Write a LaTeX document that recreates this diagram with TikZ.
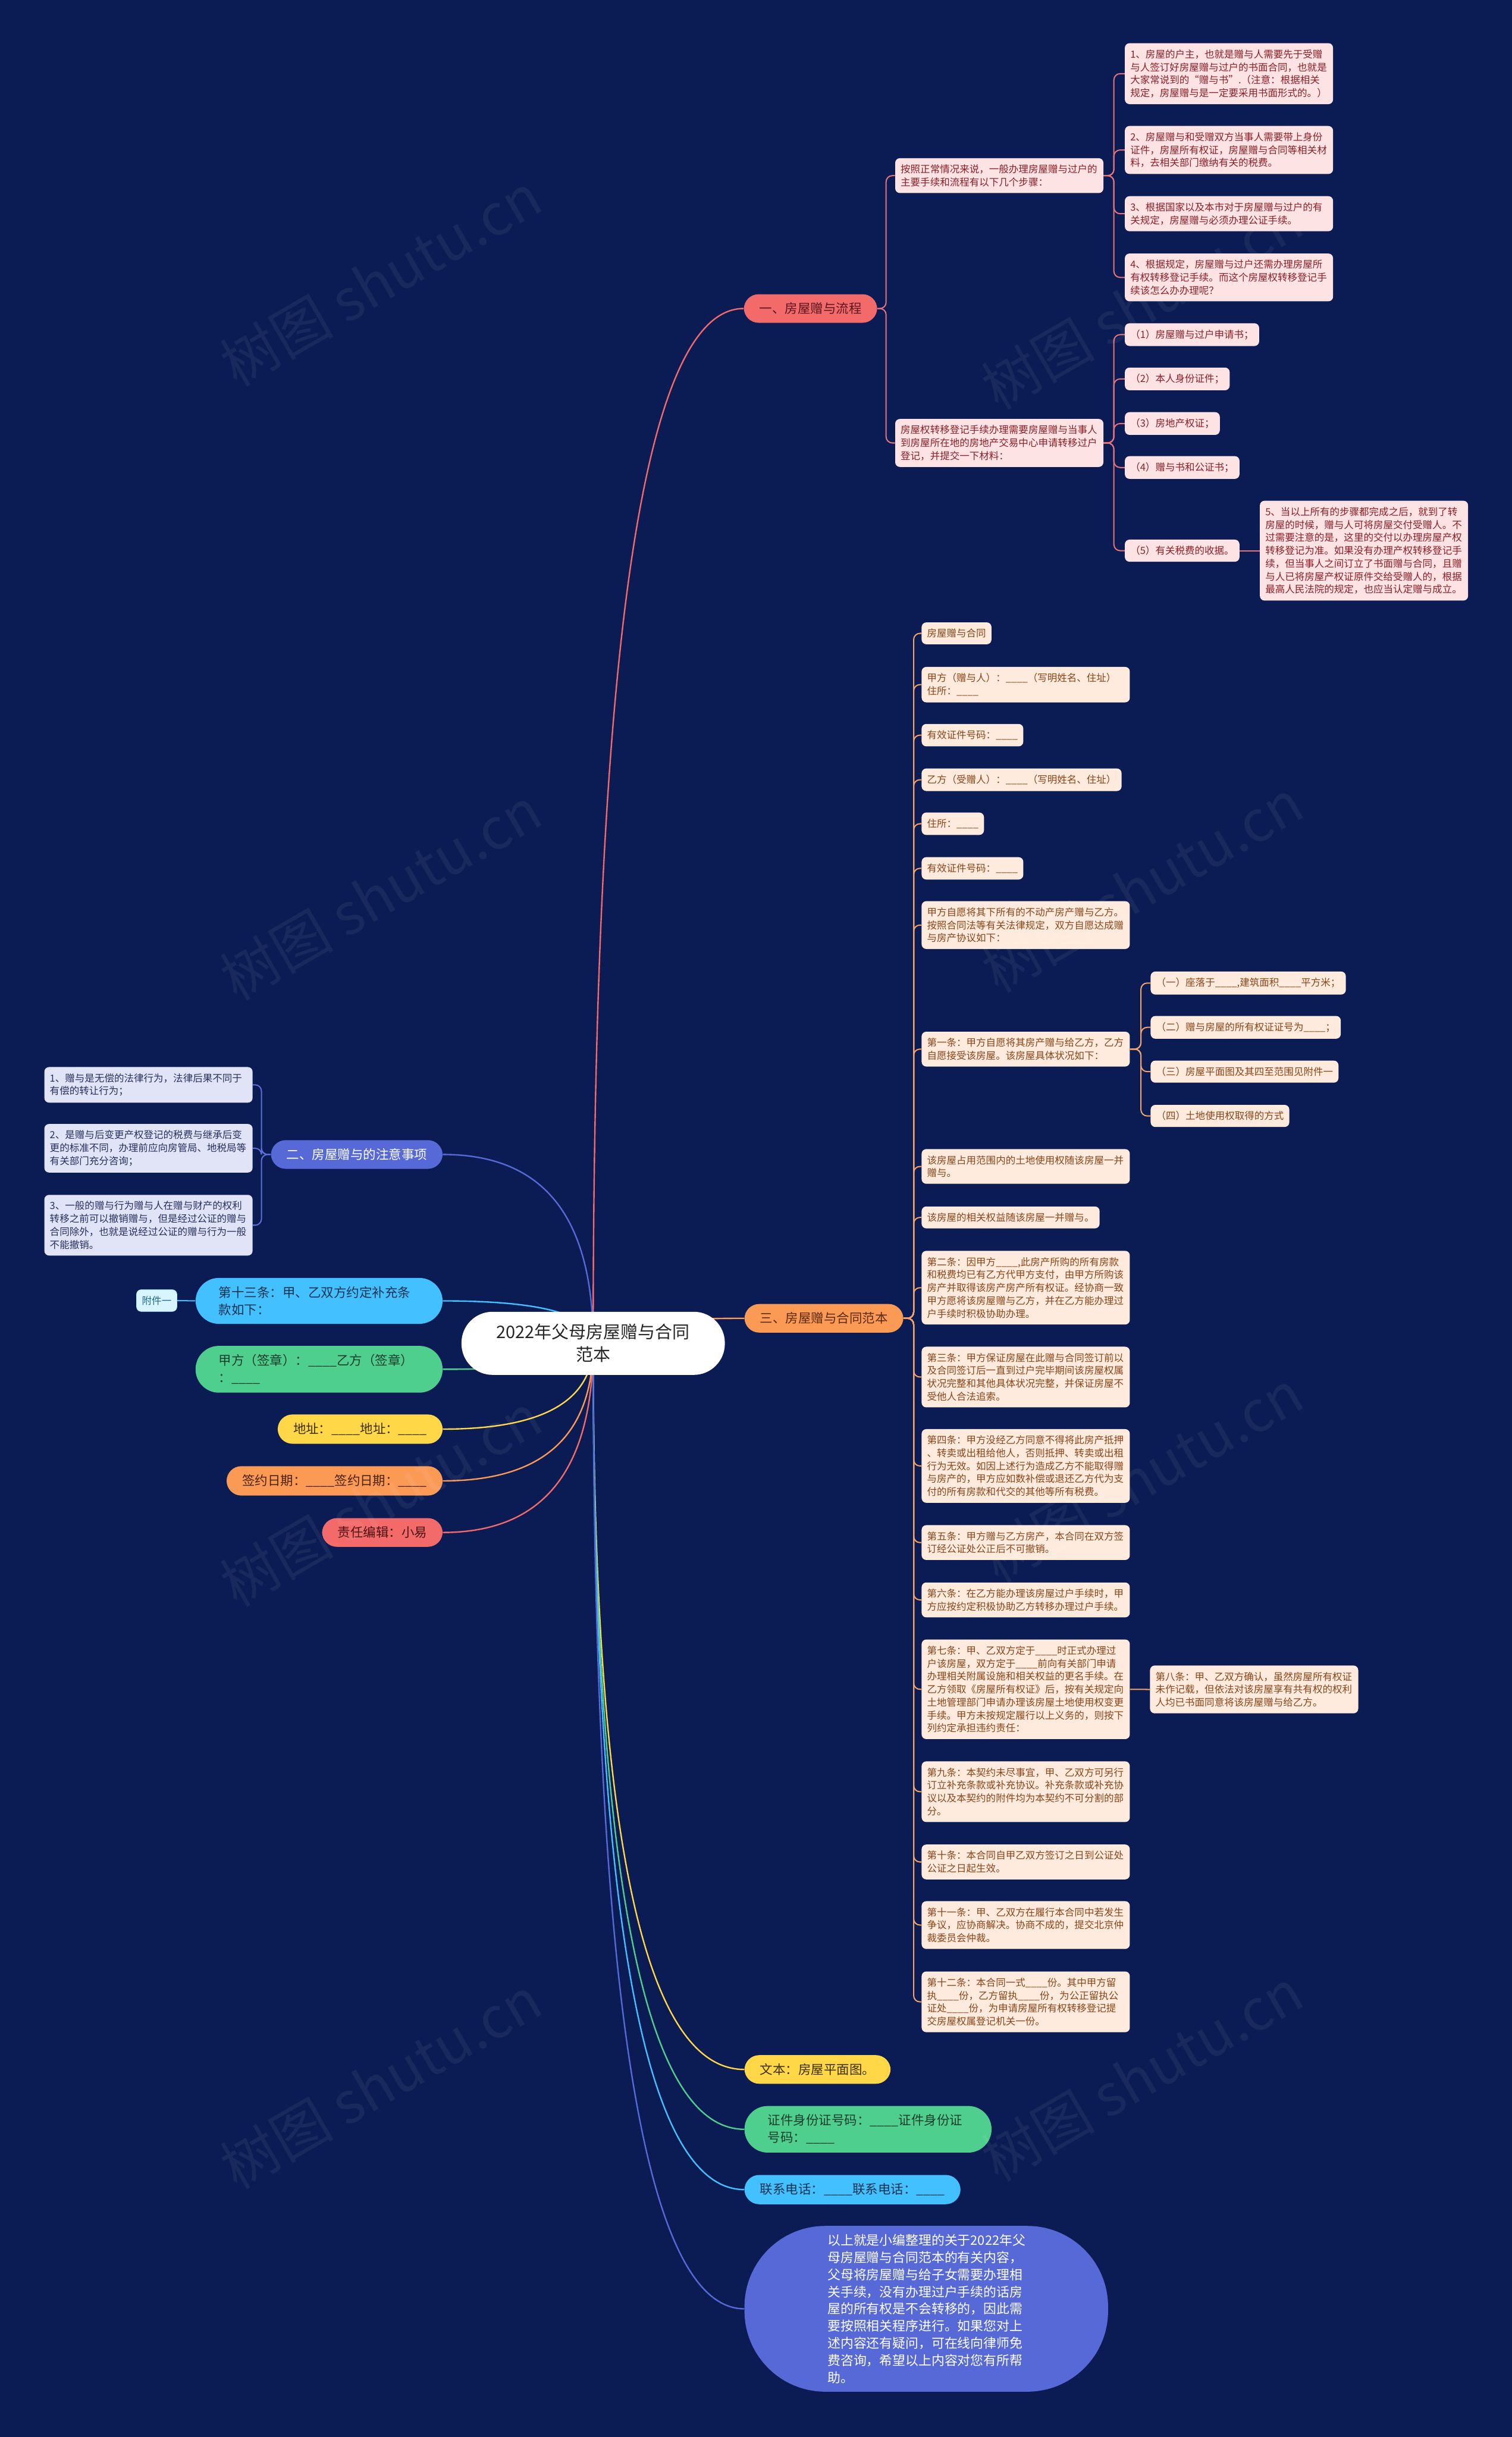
\documentclass[tikz,border=0pt]{standalone}
\usepackage{fontspec}
\setmainfont{Noto Sans CJK SC}
\usetikzlibrary{calc}

\definecolor{bgnavy}{HTML}{0B1C54}
\definecolor{cRed}{HTML}{F26A6A}
\definecolor{cOrange}{HTML}{FA9A55}
\definecolor{cIndigo}{HTML}{5669D6}
\definecolor{cSky}{HTML}{42C0FF}
\definecolor{cGreen}{HTML}{4ECF8D}
\definecolor{cYellow}{HTML}{FFD747}
\definecolor{redFill}{HTML}{FDE3E3}
\definecolor{redText}{HTML}{8E1E27}
\definecolor{redLink}{HTML}{E77479}
\definecolor{orangeFill}{HTML}{FEEBDD}
\definecolor{orangeText}{HTML}{8A4418}
\definecolor{orangeLink}{HTML}{F3A269}
\definecolor{indigoFill}{HTML}{E1E4F7}
\definecolor{indigoText}{HTML}{27305E}
\definecolor{indigoLink}{HTML}{5D6ED9}
\definecolor{skyFill}{HTML}{D8F4FF}
\definecolor{skyText}{HTML}{1F6A8C}
\definecolor{tRed}{HTML}{5B1720}
\definecolor{tOrange}{HTML}{5A2A0E}
\definecolor{tYellow}{HTML}{3B3000}
\definecolor{tGreen}{HTML}{183D2B}
\definecolor{tSky}{HTML}{16334F}
\definecolor{tOrangeb}{HTML}{4A2208}
\definecolor{tRedb}{HTML}{4C1212}

\pgfdeclarelayer{bg}
\pgfdeclarelayer{links}
\pgfsetlayers{bg,links,main}

\newcommand\xblank{\_\_\_\_}

\begin{document}
\begin{tikzpicture}[x=0.5mm,y=-0.5mm,
  leafbox/.style={rounded corners=1.5mm,inner xsep=1.75mm,inner ysep=2.05mm,align=left,anchor=west,font=\fontsize{9}{11.85}\selectfont},
  widebox/.style={text width=63.5mm},
  redbox/.style={leafbox,fill=redFill,text=redText},
  orangebox/.style={leafbox,fill=orangeFill,text=orangeText},
  indigobox/.style={leafbox,fill=indigoFill,text=indigoText,anchor=east},
  pill/.style={rounded corners=4.75mm,inner xsep=5mm,inner ysep=2.7mm,align=center,font=\fontsize{11.7}{15.8}\selectfont},
  pilltwo/.style={rounded corners=7.5mm,inner xsep=7.5mm,inner ysep=2.7mm,text width=64.5mm,align=left,font=\fontsize{11.7}{15.8}\selectfont},
  rootnode/.style={fill=white,text=black!85,rounded corners=10mm,minimum width=84.75mm,minimum height=20.3mm,align=center,font=\fontsize{15.8}{20.6}\selectfont},
  sumnode/.style={fill=cIndigo,text=white,rounded corners=26mm,inner xsep=26.75mm,inner ysep=2.65mm,text width=63.5mm,align=left,font=\fontsize{11.9}{15.7}\selectfont},
  mainlink/.style={line width=1.3pt},
  sublink/.style={line width=1.1pt,rounded corners=2mm},
  wmark/.style={rotate=30,text=white,opacity=0.06,font=\fontsize{52}{52}\selectfont}]

  \useasboundingbox (0,0) rectangle (973,1568);
  \begin{pgfonlayer}{bg}
    \fill[bgnavy] (0,0) rectangle (973,1568);
  \end{pgfonlayer}

  % 中心主题
  \node[rootnode] (root) at (381.75,864.3) {2022年父母房屋赠与合同\\范本};

  % 一、房屋赠与流程
  \node[pill,anchor=west,fill=cRed,text=tRed] (b1) at (478.6,198.5) {一、房屋赠与流程};
  \node[redbox,widebox] (s1a) at (576,113) {按照正常情况来说，一般办理房屋赠与过户的\\主要手续和流程有以下几个步骤：};
  \node[redbox,widebox] (s1b) at (576,285) {房屋权转移登记手续办理需要房屋赠与当事人\\到房屋所在地的房地产交易中心申请转移过户\\登记，并提交一下材料：};
  \node[redbox,widebox] (l1) at (723.8,47.4) {1、房屋的户主，也就是赠与人需要先于受赠\\与人签订好房屋赠与过户的书面合同，也就是\\大家常说到的“赠与书”.（注意：根据相关\\规定，房屋赠与是一定要采用书面形式的。）};
  \node[redbox,widebox] (l2) at (723.8,96.5) {2、房屋赠与和受赠双方当事人需要带上身份\\证件，房屋所有权证，房屋赠与合同等相关材\\料，去相关部门缴纳有关的税费。};
  \node[redbox,widebox] (l3) at (723.8,137.5) {3、根据国家以及本市对于房屋赠与过户的有\\关规定，房屋赠与必须办理公证手续。};
  \node[redbox,widebox] (l4) at (723.8,178.5) {4、根据规定，房屋赠与过户还需办理房屋所\\有权转移登记手续。而这个房屋权转移登记手\\续该怎么办办理呢？};
  \node[redbox] (m1) at (723.8,215.3) {（1）房屋赠与过户申请书；};
  \node[redbox] (m2) at (723.8,243.8) {（2）本人身份证件；};
  \node[redbox] (m3) at (723.8,272.5) {（3）房地产权证；};
  \node[redbox] (m4) at (723.8,300.8) {（4）赠与书和公证书；};
  \node[redbox] (m5) at (723.8,354.3) {（5）有关税费的收据。};
  \node[redbox,widebox] (m5a) at (810.7,354.3) {5、当以上所有的步骤都完成之后，就到了转\\房屋的时候，赠与人可将房屋交付受赠人。不\\过需要注意的是，这里的交付以办理房屋产权\\转移登记为准。如果没有办理产权转移登记手\\续，但当事人之间订立了书面赠与合同，且赠\\与人已将房屋产权证原件交给受赠人的，根据\\最高人民法院的规定，也应当认定赠与成立。};

  % 三、房屋赠与合同范本
  \node[pill,anchor=west,fill=cOrange,text=tOrange] (b3) at (479,848.2) {三、房屋赠与合同范本};
  \node[orangebox] (c1) at (593,407.5) {房屋赠与合同};
  \node[orangebox,widebox] (c2) at (593,440.5) {甲方（赠与人）：\xblank（写明姓名、住址）\\住所：\xblank};
  \node[orangebox] (c3) at (593,473) {有效证件号码：\xblank};
  \node[orangebox] (c4) at (593,501.7) {乙方（受赠人）：\xblank（写明姓名、住址）};
  \node[orangebox] (c5) at (593,530) {住所：\xblank};
  \node[orangebox] (c6) at (593,558.7) {有效证件号码：\xblank};
  \node[orangebox,widebox] (c7) at (593,595.2) {甲方自愿将其下所有的不动产房产赠与乙方。\\按照合同法等有关法律规定，双方自愿达成赠\\与房产协议如下：};
  \node[orangebox,widebox] (c8) at (593,675) {第一条：甲方自愿将其房产赠与给乙方，乙方\\自愿接受该房屋。该房屋具体状况如下：};
  \node[orangebox] (d1) at (740.4,632.5) {（一）座落于\xblank,建筑面积\xblank 平方米；};
  \node[orangebox] (d2) at (740.4,661) {（二）赠与房屋的所有权证证号为\xblank；};
  \node[orangebox] (d3) at (740.4,689.5) {（三）房屋平面图及其四至范围见附件一};
  \node[orangebox] (d4) at (740.4,718) {（四）土地使用权取得的方式};
  \node[orangebox,widebox] (c9) at (593,750.5) {该房屋占用范围内的土地使用权随该房屋一并\\赠与。};
  \node[orangebox] (c10) at (593,783.3) {该房屋的相关权益随该房屋一并赠与。};
  \node[orangebox,widebox] (c11) at (593,828.5) {第二条：因甲方\xblank,此房产所购的所有房款\\和税费均已有乙方代甲方支付，由甲方所购该\\房产并取得该房产房产所有权证。经协商一致\\甲方愿将该房屋赠与乙方，并在乙方能办理过\\户手续时积极协助办理。};
  \node[orangebox,widebox] (c12) at (593,886) {第三条：甲方保证房屋在此赠与合同签订前以\\及合同签订后一直到过户完毕期间该房屋权属\\状况完整和其他具体状况完整，并保证房屋不\\受他人合法追索。};
  \node[orangebox,widebox] (c13) at (593,943.2) {第四条：甲方没经乙方同意不得将此房产抵押\\、转卖或出租给他人，否则抵押、转卖或出租\\行为无效。如因上述行为造成乙方不能取得赠\\与房产的，甲方应如数补偿或退还乙方代为支\\付的所有房款和代交的其他等所有税费。};
  \node[orangebox,widebox] (c14) at (593,992.5) {第五条：甲方赠与乙方房产，本合同在双方签\\订经公证处公正后不可撤销。};
  \node[orangebox,widebox] (c15) at (593,1029.4) {第六条：在乙方能办理该房屋过户手续时，甲\\方应按约定积极协助乙方转移办理过户手续。};
  \node[orangebox,widebox] (c16) at (593,1086.9) {第七条：甲、乙双方定于\xblank 时正式办理过\\户该房屋，双方定于\xblank 前向有关部门申请\\办理相关附属设施和相关权益的更名手续。在\\乙方领取《房屋所有权证》后，按有关规定向\\土地管理部门申请办理该房屋土地使用权变更\\手续。甲方未按规定履行以上义务的，则按下\\列约定承担违约责任：};
  \node[orangebox,widebox] (c16a) at (740,1087) {第八条：甲、乙双方确认，虽然房屋所有权证\\未作记载，但依法对该房屋享有共有权的权利\\人均已书面同意将该房屋赠与给乙方。};
  \node[orangebox,widebox] (c17) at (593,1152.8) {第九条：本契约未尽事宜，甲、乙双方可另行\\订立补充条款或补充协议。补充条款或补充协\\议以及本契约的附件均为本契约不可分割的部\\分。};
  \node[orangebox,widebox] (c18) at (593,1198) {第十条：本合同自甲乙双方签订之日到公证处\\公证之日起生效。};
  \node[orangebox,widebox] (c19) at (593,1238.6) {第十一条：甲、乙双方在履行本合同中若发生\\争议，应协商解决。协商不成的，提交北京仲\\裁委员会仲裁。};
  \node[orangebox,widebox] (c20) at (593,1288) {第十二条：本合同一式\xblank 份。其中甲方留\\执\xblank 份，乙方留执\xblank 份，为公正留执公\\证处\xblank 份，为申请房屋所有权转移登记提\\交房屋权属登记机关一份。};

  % 右下分支
  \node[pill,anchor=west,fill=cYellow,text=tYellow] (e1) at (479,1331.5) {文本：房屋平面图。};
  \node[pilltwo,anchor=west,fill=cGreen,text=tGreen] (e2) at (479,1370) {证件身份证号码：\xblank 证件身份证\\号码：\xblank};
  \node[pill,anchor=west,fill=cSky,text=tSky] (e3) at (479,1408.8) {联系电话：\xblank 联系电话：\xblank};
  \node[sumnode,anchor=west] (e4) at (479,1485.5) {以上就是小编整理的关于2022年父\\母房屋赠与合同范本的有关内容，\\父母将房屋赠与给子女需要办理相\\关手续，没有办理过户手续的话房\\屋的所有权是不会转移的，因此需\\要按照相关程序进行。如果您对上\\述内容还有疑问，可在线向律师免\\费咨询，希望以上内容对您有所帮\\助。};

  % 二、房屋赠与的注意事项
  \node[pill,anchor=east,fill=cIndigo,text=white] (b2) at (285,742.8) {二、房屋赠与的注意事项};
  \node[indigobox,widebox] (n1) at (162.7,698) {1、赠与是无偿的法律行为，法律后果不同于\\有偿的转让行为；};
  \node[indigobox,widebox] (n2) at (162.7,738.8) {2、是赠与后变更产权登记的税费与继承后变\\更的标准不同，办理前应向房管局、地税局等\\有关部门充分咨询；};
  \node[indigobox,widebox] (n3) at (162.7,788.3) {3、一般的赠与行为赠与人在赠与财产的权利\\转移之前可以撤销赠与，但是经过公证的赠与\\合同除外，也就是说经过公证的赠与行为一般\\不能撤销。};

  % 左侧分支
  \node[pilltwo,anchor=east,fill=cSky,text=tSky] (f1) at (285,837) {第十三条：甲、乙双方约定补充条\\款如下：};
  \node[leafbox,anchor=east,fill=skyFill,text=skyText,draw=cSky!40,line width=0.4pt] (f1a) at (114,836.8) {附件一};
  \node[pilltwo,anchor=east,fill=cGreen,text=tGreen] (f2) at (285,881) {甲方（签章）：\xblank 乙方（签章）\\：\xblank};
  \node[pill,anchor=east,fill=cYellow,text=tYellow] (f3) at (285,919.5) {地址：\xblank 地址：\xblank};
  \node[pill,anchor=east,fill=cOrange,text=tOrangeb] (f4) at (285,952.8) {签约日期：\xblank 签约日期：\xblank};
  \node[pill,anchor=east,fill=cRed,text=tRedb] (f5) at (285,986) {责任编辑：小易};

  % 连线
  \begin{pgfonlayer}{links}
    \foreach \nd/\col in {b1/cRed,b3/cOrange,e1/cYellow,e2/cGreen,e3/cSky,e4/cIndigo}
      \draw[mainlink,draw=\col] (root.center) .. controls ($(root.center)!.67!(root.center |- \nd.west)$) and ($(\nd.west)!.67!(root.center |- \nd.west)$) .. (\nd.west);
    \foreach \nd/\col in {b2/cIndigo,f1/cSky,f2/cGreen,f3/cYellow,f4/cOrange,f5/cRed}
      \draw[mainlink,draw=\col] (root.center) .. controls ($(root.center)!.67!(root.center |- \nd.east)$) and ($(\nd.east)!.67!(root.center |- \nd.east)$) .. (\nd.east);

    \foreach \nd in {s1a,s1b}
      \draw[sublink,redLink] (b1.east) -- ++(5.6,0) |- (\nd.west);
    \foreach \nd in {l1,l2,l3,l4}
      \draw[sublink,redLink] (s1a.east) -- ++(6.6,0) |- (\nd.west);
    \foreach \nd in {m1,m2,m3,m4,m5}
      \draw[sublink,redLink] (s1b.east) -- ++(6.6,0) |- (\nd.west);
    \draw[sublink,redLink] (m5.east) -- (m5a.west);

    \foreach \nd in {n1,n2,n3}
      \draw[sublink,indigoLink] (b2.west) -- ++(-6,0) |- (\nd.east);

    \foreach \nd in {c1,c2,c3,c4,c5,c6,c7,c8,c9,c10,c11,c12,c13,c14,c15,c16,c17,c18,c19,c20}
      \draw[sublink,orangeLink] (b3.east) -- ++(6.5,0) |- (\nd.west);
    \foreach \nd in {d1,d2,d3,d4}
      \draw[sublink,orangeLink] (c8.east) -- ++(7,0) |- (\nd.west);
    \draw[sublink,orangeLink] (c16.east) -- (c16a.west);

    \draw[sublink,cSky] (f1.west) -- (f1a.east);
  \end{pgfonlayer}

  % 水印
  \foreach \wx/\wy [count=\i] in {245/180,735/195,245/575,735/570,245/965,735/950,245/1340,735/1335}
    \node[wmark] (wm\i) at (\wx,\wy) {树图 shutu.cn};
\end{tikzpicture}
\end{document}
